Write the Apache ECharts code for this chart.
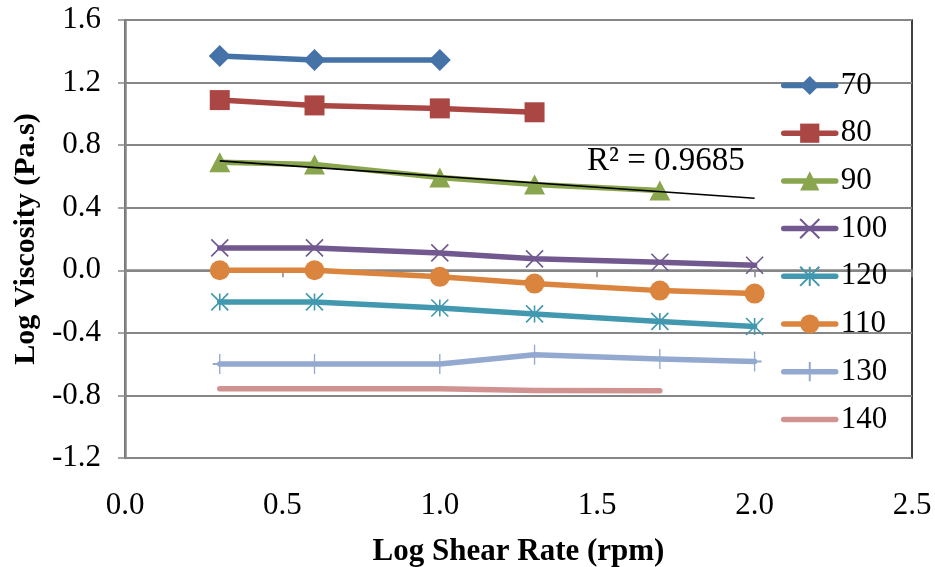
<!DOCTYPE html>
<html>
<head>
<meta charset="utf-8">
<script src="https://cdn.jsdelivr.net/npm/echarts@6/dist/echarts.min.js"></script>
<style>
  html, body { margin: 0; padding: 0; background: #ffffff; }
  #chart { width: 935px; height: 567px; }
</style>
</head>
<body>
<div id="chart"></div>
<script>
// ---- data ----
const xLog = [0.301, 0.602, 1.0, 1.301, 1.699, 2.0];   // log shear rate (rpm)
const seriesNames = ['70', '80', '90', '100', '120', '110', '130', '140'];
const s70  = [1.370, 1.344, 1.344];
const s80  = [1.088, 1.054, 1.035, 1.010];
const s90  = [0.691, 0.677, 0.593, 0.548, 0.510];
const s100 = [0.143, 0.143, 0.111, 0.073, 0.051, 0.032];
const s120 = [-0.202, -0.202, -0.241, -0.279, -0.327, -0.359];
const s110 = [0.000, 0.000, -0.042, -0.085, -0.130, -0.149];
const s130 = [-0.599, -0.599, -0.599, -0.540, -0.567, -0.583];
const s140 = [-0.757, -0.757, -0.757, -0.768, -0.770];
const xTicks = [0.0, 0.5, 1.0, 1.5, 2.0, 2.5];
const yTicks = [-1.2, -0.8, -0.4, 0.0, 0.4, 0.8, 1.2, 1.6];
const trendEndX = 2.0;          // trendline forecast end
const r2Text = 'R² = 0.9685';

// ---- helpers ----
const FONT = '"Liberation Serif", "Times New Roman", serif';
function pairs(vals) { return vals.map((v, i) => [xLog[i], v]); }

// linear regression for the 90 series trendline
function linFit(ys) {
  const xs = xLog.slice(0, ys.length);
  const n = ys.length;
  const mx = xs.reduce((a, b) => a + b, 0) / n;
  const my = ys.reduce((a, b) => a + b, 0) / n;
  let sxy = 0, sxx = 0;
  for (let i = 0; i < n; i++) { sxy += (xs[i] - mx) * (ys[i] - my); sxx += (xs[i] - mx) ** 2; }
  const b = sxy / sxx;
  return { a: my - b * mx, b: b };
}
const fit = linFit(s90);
const trendData = [[xLog[0], fit.a + fit.b * xLog[0]], [trendEndX, fit.a + fit.b * trendEndX]];

const X_PATH = 'path://M0,0L10,10M10,0L0,10';
const AST_PATH = 'path://M0,0L10,10M10,0L0,10M5,0L5,10';
const PLUS_PATH = 'path://M5,0L5,10M0,5L10,5';

function mk(name, vals, color, symbol, size, stroked) {
  return {
    name: name,
    type: 'line',
    data: pairs(vals),
    symbol: symbol,
    symbolSize: size,
    showSymbol: symbol !== 'none',
    lineStyle: { color: color, width: 5.5, cap: 'round', join: 'round' },
    itemStyle: stroked
      ? { color: color, borderColor: color, borderWidth: 1.6 }
      : { color: color, borderWidth: 0 },
    emphasis: { disabled: true },
    animation: false,
    z: 3
  };
}

const series = [
  mk('70',  s70,  '#4572A7', 'diamond', [22, 22], false),
  mk('80',  s80,  '#AA4643', 'rect', 20, false),
  mk('90',  s90,  '#89A54E', 'triangle', [21, 20], false),
  mk('100', s100, '#71588F', X_PATH, 17, true),
  mk('120', s120, '#4198AF', AST_PATH, 17, true),
  mk('110', s110, '#DB843D', 'circle', 20, false),
  mk('130', s130, '#93A9CF', PLUS_PATH, [14, 20], true),
  mk('140', s140, '#D19392', 'none', 0, false),
  {
    name: 'trend',
    type: 'line',
    data: trendData,
    symbol: 'none',
    lineStyle: { color: '#000000', width: 1.6 },
    silent: true,
    animation: false,
    z: 4
  }
];

const legendData = seriesNames.map(n => n === '140'
  ? { name: n, itemStyle: { opacity: 0 } }
  : { name: n });

const chart = echarts.init(document.getElementById('chart'), null, { renderer: 'canvas' });
chart.setOption({
  backgroundColor: '#ffffff',
  animation: false,
  textStyle: { fontFamily: FONT },
  grid: {
    left: 125, right: 23, top: 20, bottom: 109,
    outerBoundsMode: 'none',
    containLabel: false,
    show: true, borderColor: '#000000', borderWidth: 1.5, backgroundColor: 'transparent'
  },
  xAxis: {
    type: 'value',
    min: xTicks[0], max: xTicks[xTicks.length - 1], interval: 0.5,
    name: 'Log Shear Rate (rpm)',
    nameLocation: 'middle',
    nameGap: 78,
    nameTextStyle: { fontFamily: FONT, fontSize: 31, fontWeight: 'bold', color: '#000' },
    axisLine: { show: true, lineStyle: { color: '#868686', width: 2.5 } },
    axisTick: { show: true, inside: false, length: 7, lineStyle: { color: '#868686', width: 1.5 } },
    axisLabel: { fontFamily: FONT, fontSize: 31, color: '#000', margin: 32,
                 formatter: v => v.toFixed(1) },
    splitLine: { show: false }
  },
  yAxis: {
    type: 'value',
    min: yTicks[0], max: yTicks[yTicks.length - 1], interval: 0.4,
    name: 'Log Viscosity (Pa.s)',
    nameLocation: 'middle',
    nameGap: 82,
    nameRotate: 90,
    nameTextStyle: { fontFamily: FONT, fontSize: 30, fontWeight: 'bold', color: '#000' },
    axisLine: { show: true, onZero: false, lineStyle: { color: '#868686', width: 2.5 } },
    axisTick: { show: true, inside: false, length: 7, lineStyle: { color: '#868686', width: 1.5 } },
    axisLabel: { fontFamily: FONT, fontSize: 31, color: '#000', margin: 24,
                 formatter: v => v.toFixed(1) },
    splitLine: { show: true, lineStyle: { color: '#868686', width: 1.8 } }
  },
  legend: {
    data: legendData,
    orient: 'vertical',
    left: 776,
    top: 65,
    itemWidth: 52,
    itemHeight: 24,
    itemGap: 16.7,
    lineStyle: { width: 5.5, cap: 'round' },
    textStyle: { fontFamily: FONT, fontSize: 31, color: '#000' },
    selectedMode: false,
    backgroundColor: 'transparent'
  },
  graphic: [{
    type: 'text',
    left: 587,
    top: 145,
    style: { text: r2Text, font: '33px ' + FONT, fill: '#000' },
    z: 10
  }],
  series: series
});
</script>
</body>
</html>
